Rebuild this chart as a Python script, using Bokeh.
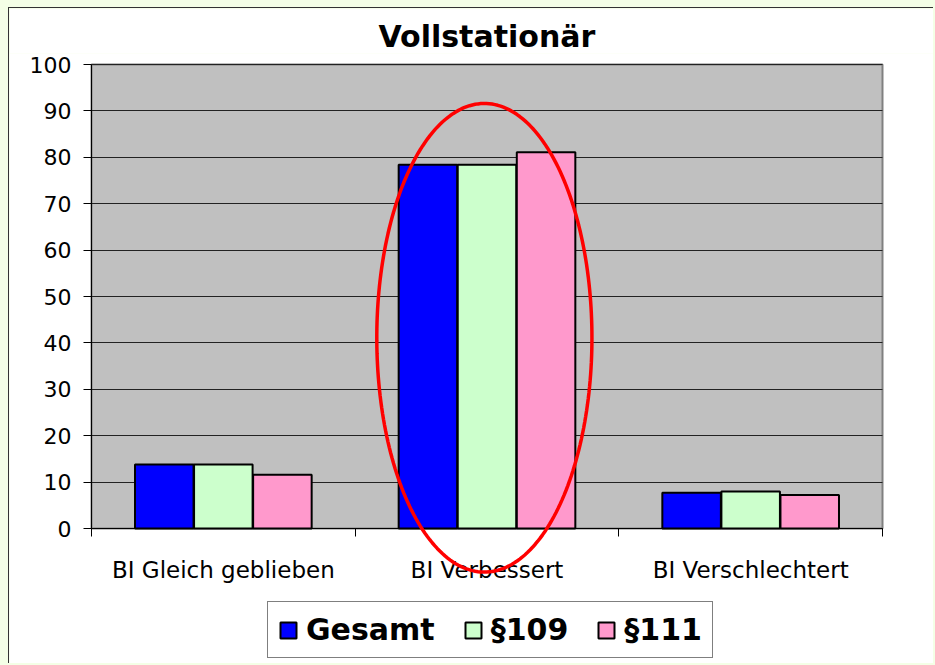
import numpy as np
from bokeh.plotting import figure
from bokeh.models import (ColumnDataSource, FixedTicker, Legend, LegendItem,
                          PolyAnnotation, BoxAnnotation, Range1d, LinearAxis, Grid)
from bokeh.embed import file_html
from bokeh.resources import INLINE

# ---- data ----
categories = ["BI Gleich geblieben", "BI Verbessert", "BI Verschlechtert"]
series = ["Gesamt", "§109", "§111"]
gesamt = [13.8, 78.4, 7.7]
p109 = [13.8, 78.4, 8.0]
p111 = [11.6, 81.1, 7.2]
colors = ["#0000FF", "#CCFFCC", "#FF99CC"]
y_ticks = list(range(0, 101, 10))
y_min, y_max = 0, 100

FONT = "DejaVu Sans"

# ---- layout (pixels inside the canvas) ----
W, H = 925, 656
FRAME_TOP = 45      # top of drawing frame
TOP = 56            # y = 100
ZERO_Y = 520        # y = 0
LEFT = 82           # x = 0
RIGHT = 873         # x = 3
ncat = len(categories)
pxy = (ZERO_Y - TOP) / (y_max - y_min)
pxx = (RIGHT - LEFT) / ncat
x_range = Range1d(-LEFT / pxx, ncat + (W - RIGHT) / pxx)
y_range = Range1d(y_min - (H - ZERO_Y) / pxy, y_max + (TOP - FRAME_TOP) / pxy)

p = figure(width=W, height=H, output_backend="svg", toolbar_location=None,
           x_range=x_range, y_range=y_range,
           x_axis_location=None, y_axis_location=None,
           title="Vollstationär",
           min_border_left=0, min_border_right=0, min_border_top=FRAME_TOP,
           min_border_bottom=0)

for g in p.grid:
    g.visible = False

p.background_fill_color = "white"
p.border_fill_color = "white"
p.outline_line_color = None
p.styles = {"border-top": "1px solid #333333", "border-left": "1px solid #333333"}

p.title.align = "left"
p.title.offset = 369
p.title.standoff = 0
p.title.text_font = FONT
p.title.text_font_size = "30px"
p.title.text_font_style = "bold"
p.title.text_color = "black"

# plot area background
p.add_layout(BoxAnnotation(left=0, right=ncat, bottom=y_min, top=y_max,
                           fill_color="#C0C0C0", fill_alpha=1,
                           line_color="#808080", line_width=2, line_alpha=1,
                           level="image"))

# grid
p.add_layout(Grid(dimension=1, ticker=FixedTicker(ticks=y_ticks),
                  cross_bounds=(0, ncat), grid_line_color="#222222",
                  grid_line_width=1))

# bars
offsets = [-0.224, 0.0, 0.224]
bar_w = 0.222
values = [gesamt, p109, p111]
renderers = []
for vals, off, col, name in zip(values, offsets, colors, series):
    src = ColumnDataSource(dict(x=[i + 0.5 + off for i in range(ncat)], top=vals))
    r = p.vbar(x="x", top="top", width=bar_w, bottom=0, source=src,
               fill_color=col, line_color="black", line_width=2)
    renderers.append((name, r))

# y axis
yaxis = LinearAxis(fixed_location=0, bounds=(y_min, y_max),
                   ticker=FixedTicker(ticks=y_ticks),
                   major_tick_in=0, major_tick_out=8,
                   minor_tick_line_color=None, axis_line_color="black",
                   major_label_text_font=FONT, major_label_text_font_size="22px",
                   major_label_text_color="black", major_label_standoff=12)
p.add_layout(yaxis, "left")

# x axis: labels at category centers, tick marks at boundaries
xaxis = LinearAxis(fixed_location=0, bounds=(0, ncat),
                   ticker=FixedTicker(ticks=[i + 0.5 for i in range(ncat)],
                                      minor_ticks=list(range(ncat + 1))),
                   major_label_overrides={i + 0.5: c for i, c in enumerate(categories)},
                   major_tick_in=0, major_tick_out=0,
                   minor_tick_in=0, minor_tick_out=8, minor_tick_line_color="black",
                   axis_line_color="black",
                   major_label_text_font=FONT, major_label_text_font_size="23px",
                   major_label_text_color="black", major_label_standoff=20)
p.add_layout(xaxis, "below")

# red ellipse highlighting the middle group
cx, cy, rx, ry = 1.49, 41.1, 0.408, 50.5
t = np.linspace(0, 2 * np.pi, 240)
p.add_layout(PolyAnnotation(xs=list(cx + rx * np.cos(t)), ys=list(cy + ry * np.sin(t)),
                            fill_alpha=0, line_color="#FF0000", line_alpha=1,
                            line_width=3.5, level="overlay"))

legend = Legend(items=[LegendItem(label=n, renderers=[r]) for n, r in renderers],
                orientation="horizontal", location=(258, 6),
                label_text_font=FONT, label_text_font_size="30px",
                label_text_font_style="bold", label_text_color="black",
                glyph_width=20, glyph_height=20, label_standoff=8, spacing=28,
                padding=10, margin=0,
                border_line_color="black", border_line_width=1,
                background_fill_color="white", background_fill_alpha=1)
p.add_layout(legend)

html = file_html(p, INLINE)
html = html.replace("</head>",
                    "<style>body{background:#F4FFE6;padding:7px 0 0 8px;}</style></head>", 1)
open("out.html", "w").write(html)
